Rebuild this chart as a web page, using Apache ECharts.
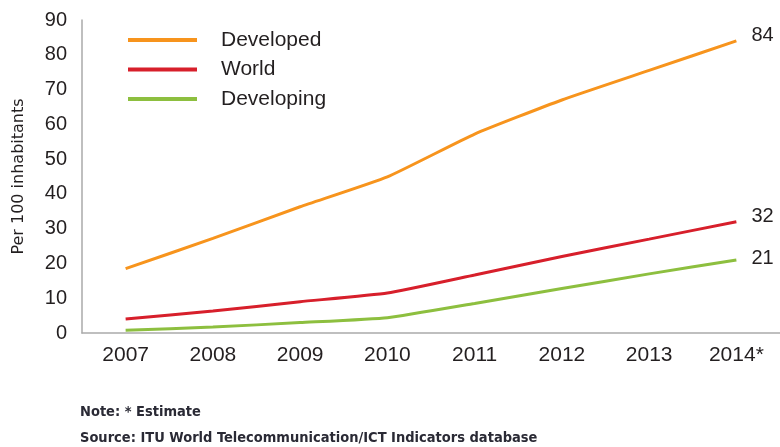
<!DOCTYPE html>
<html><head><meta charset="utf-8">
<script src="https://cdn.jsdelivr.net/npm/echarts@6/dist/echarts.min.js"></script>
<style>html,body{margin:0;padding:0;background:#fff}#c{width:780px;height:447px}</style>
</head><body><div id="c"></div>
<script>
const categories = ['2007','2008','2009','2010','2011','2012','2013','2014*'];
const developed = [18.5, 27.2, 36.3, 44.9, 57.2, 67.0, 75.5, 84];
const world = [4.0, 6.3, 9.0, 11.5, 16.7, 22.0, 27.0, 32];
const developing = [0.8, 1.7, 3.0, 4.4, 8.5, 12.8, 17.0, 21];
const yTicks = [0,10,20,30,40,50,60,70,80,90];

const chart = echarts.init(document.getElementById('c'));
const txt = '#231f20';
const FF = '"Liberation Sans", Arial, sans-serif';
function mk(name, data, color, dy){
  return {name, type:'line', data, symbol:'none', smooth:0.15,
    lineStyle:{color, width:3}, itemStyle:{color},
    endLabel:{show:true, formatter:'{c}', distance:15, color:txt, fontSize:20, fontFamily:FF, offset:[0,dy]}};
}
chart.setOption({
  animation:false,
  grid:{left:82, right:0, top:20, bottom:114, outerBoundsMode:'none', containLabel:false},
  legend:{orient:'vertical', left:123, top:21.5, itemWidth:69, itemHeight:4, itemGap:2.5,
    icon:'rect', data:['Developed','World','Developing'],
    textStyle:{color:txt, fontSize:21, lineHeight:22, fontFamily:FF, padding:[0,0,5,19]}},
  xAxis:{type:'category', data:categories, boundaryGap:true,
    axisLine:{lineStyle:{color:'#aaa', width:1.5}}, axisTick:{show:false},
    axisLabel:{color:txt, fontSize:21, fontFamily:FF, margin:12}},
  yAxis:{type:'value', min:0, max:90, interval:10,
    name:'Per 100 inhabitants', nameLocation:'middle', nameGap:55, nameRotate:90,
    nameTextStyle:{color:txt, fontSize:16, fontFamily:'"DejaVu Sans", sans-serif'},
    axisLine:{show:true, lineStyle:{color:'#aaa', width:1.5}}, axisTick:{show:false}, splitLine:{show:false},
    axisLabel:{color:txt, fontSize:20, fontFamily:FF, margin:15,
      formatter:v=> yTicks.includes(v)? String(v):''}},
  graphic:[
    {type:'text', left:80, top:405, style:{text:'Note: * Estimate', fill:'#2a2a35', font:'bold 14.5px "Liberation Sans Narrow", "DejaVu Sans Condensed", sans-serif'}},
    {type:'text', left:80, top:431, style:{text:'Source: ITU World Telecommunication/ICT Indicators database', fill:'#2a2a35', font:'bold 14.5px "Liberation Sans Narrow", "DejaVu Sans Condensed", sans-serif'}}
  ],
  series:[mk('Developed', developed, '#f7941d', -5), mk('World', world, '#d71f2b', -5), mk('Developing', developing, '#8dbf3f', -1)]
});
</script></body></html>
